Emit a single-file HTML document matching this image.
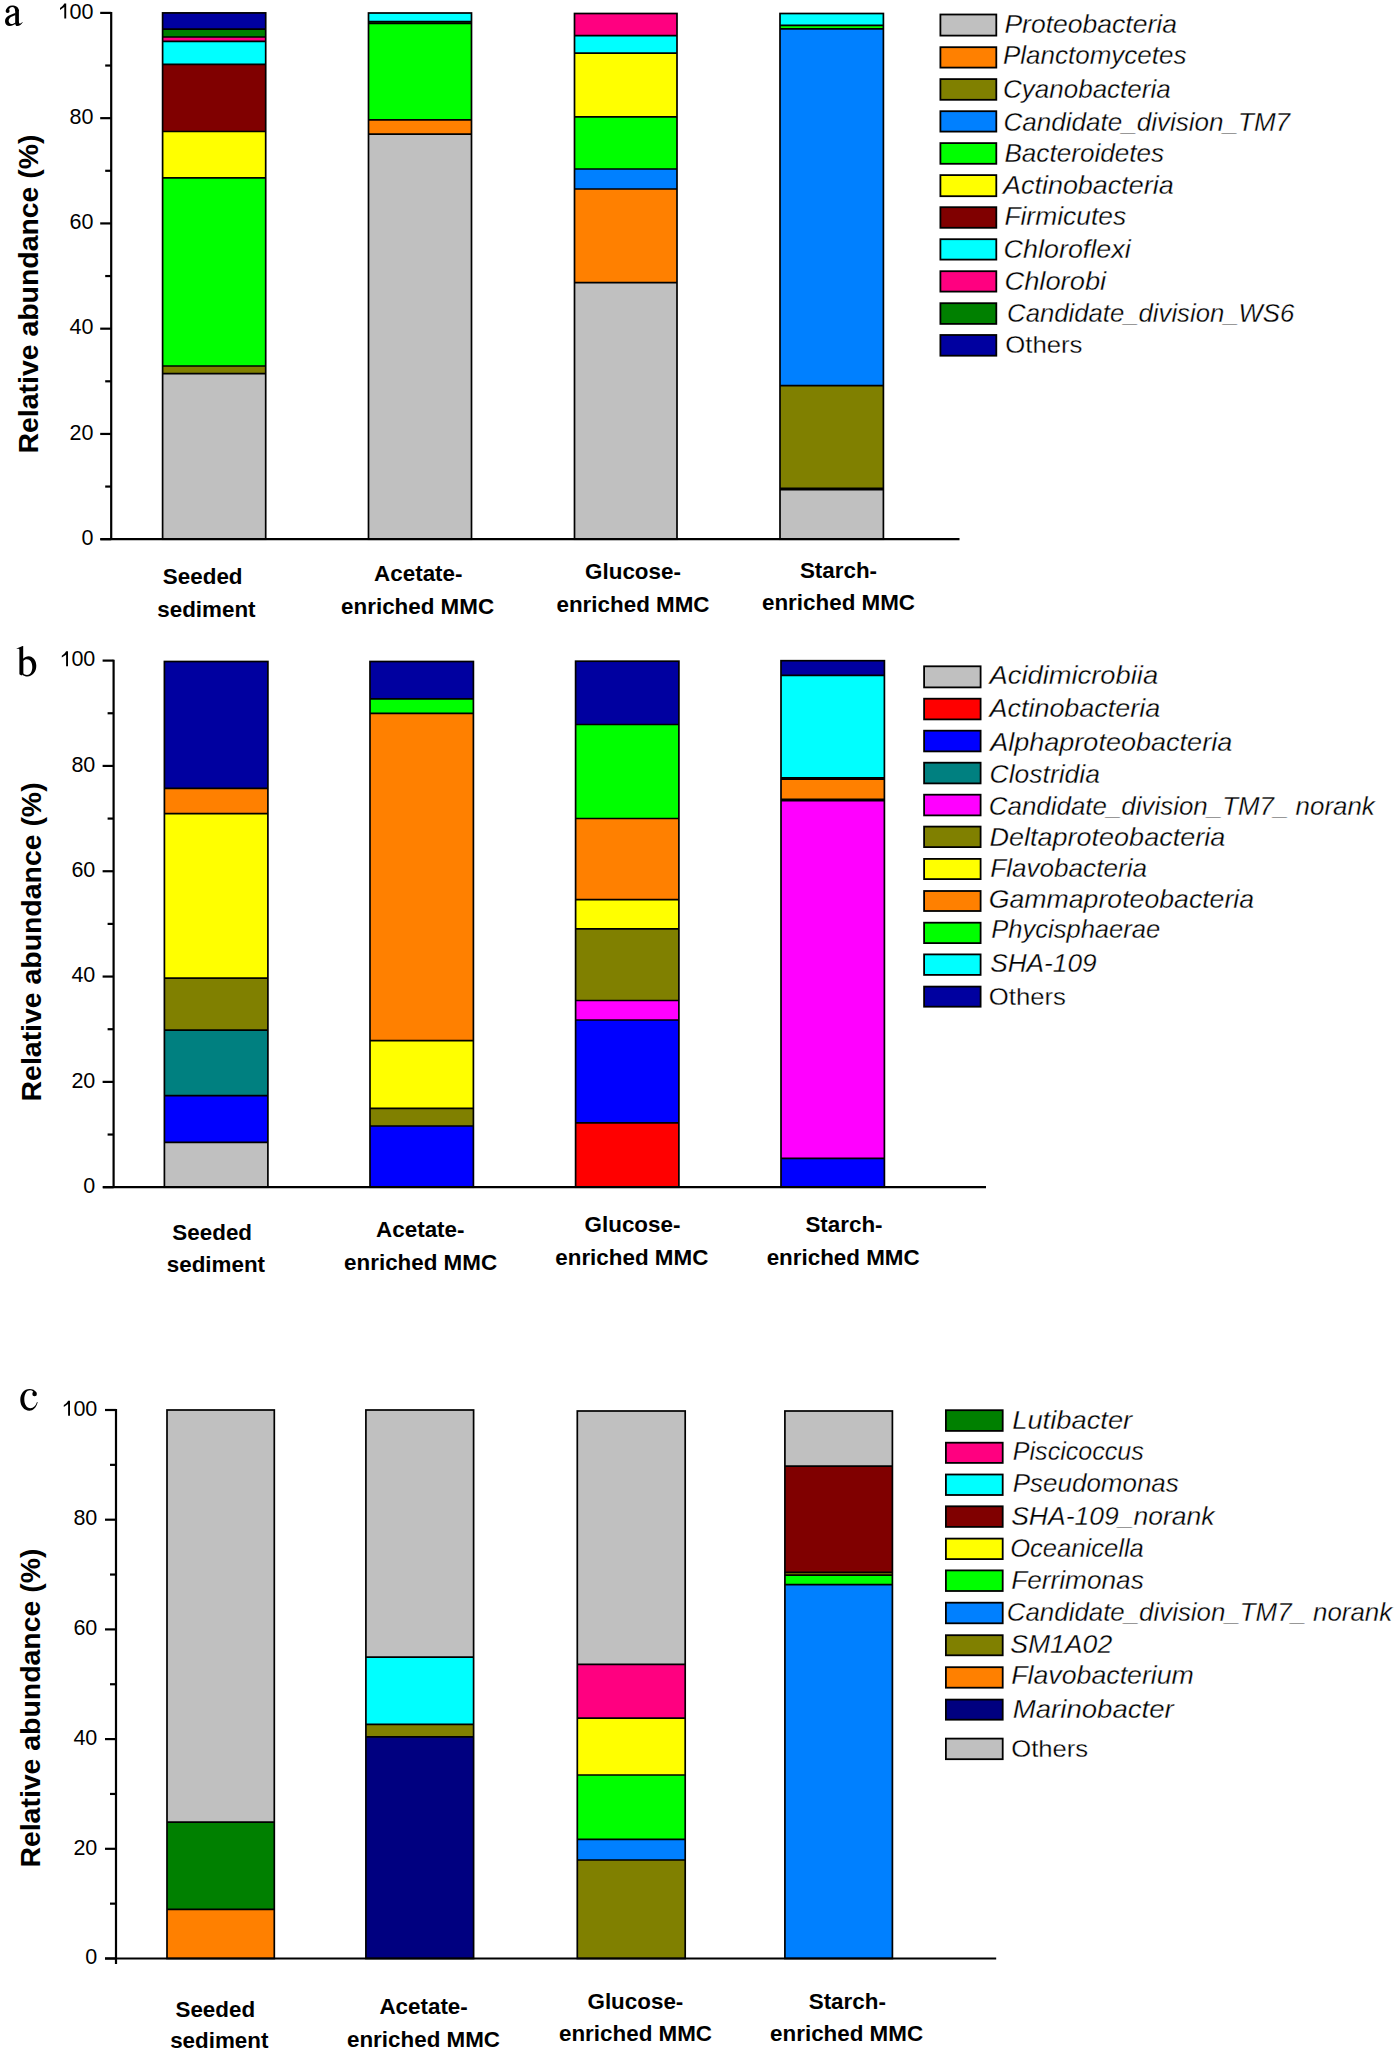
<!DOCTYPE html><html><head><meta charset="utf-8"><style>html,body{margin:0;padding:0;background:#fff;overflow:hidden;width:1395px;height:2053px;}svg{display:block;}.t{font-family:"Liberation Sans",sans-serif;}.s{font-family:"Liberation Serif",serif;}</style></head><body>
<svg width="1395" height="2053" viewBox="0 0 1395 2053">
<rect width="1395" height="2053" fill="#fff"/>
<rect x="162.6" y="12.9" width="103.1" height="16.3" fill="#0000A0"/>
<rect x="162.6" y="29.2" width="103.1" height="7.8" fill="#008000"/>
<rect x="162.6" y="37" width="103.1" height="4.4" fill="#FF0080"/>
<rect x="162.6" y="41.4" width="103.1" height="22.9" fill="#00FFFF"/>
<rect x="162.6" y="64.3" width="103.1" height="67.2" fill="#800000"/>
<rect x="162.6" y="131.5" width="103.1" height="46.3" fill="#FFFF00"/>
<rect x="162.6" y="177.8" width="103.1" height="188.2" fill="#00FF00"/>
<rect x="162.6" y="366" width="103.1" height="7.6" fill="#808000"/>
<rect x="162.6" y="373.6" width="103.1" height="165.6" fill="#C0C0C0"/>
<line x1="162.6" y1="29.2" x2="265.7" y2="29.2" stroke="#000" stroke-width="1.7"/>
<line x1="162.6" y1="37" x2="265.7" y2="37" stroke="#000" stroke-width="1.7"/>
<line x1="162.6" y1="41.4" x2="265.7" y2="41.4" stroke="#000" stroke-width="1.7"/>
<line x1="162.6" y1="64.3" x2="265.7" y2="64.3" stroke="#000" stroke-width="1.7"/>
<line x1="162.6" y1="131.5" x2="265.7" y2="131.5" stroke="#000" stroke-width="1.7"/>
<line x1="162.6" y1="177.8" x2="265.7" y2="177.8" stroke="#000" stroke-width="1.7"/>
<line x1="162.6" y1="366" x2="265.7" y2="366" stroke="#000" stroke-width="1.7"/>
<line x1="162.6" y1="373.6" x2="265.7" y2="373.6" stroke="#000" stroke-width="1.7"/>
<rect x="162.6" y="12.9" width="103.1" height="526.3" fill="none" stroke="#000" stroke-width="1.7"/>
<rect x="368.5" y="13" width="103" height="8.7" fill="#00FFFF"/>
<rect x="368.5" y="21.7" width="103" height="1.6" fill="#008000"/>
<rect x="368.5" y="23.3" width="103" height="96.5" fill="#00FF00"/>
<rect x="368.5" y="119.8" width="103" height="14.4" fill="#FF8000"/>
<rect x="368.5" y="134.2" width="103" height="405" fill="#C0C0C0"/>
<line x1="368.5" y1="21.7" x2="471.5" y2="21.7" stroke="#000" stroke-width="1.7"/>
<line x1="368.5" y1="23.3" x2="471.5" y2="23.3" stroke="#000" stroke-width="1.7"/>
<line x1="368.5" y1="119.8" x2="471.5" y2="119.8" stroke="#000" stroke-width="1.7"/>
<line x1="368.5" y1="134.2" x2="471.5" y2="134.2" stroke="#000" stroke-width="1.7"/>
<rect x="368.5" y="13" width="103" height="526.2" fill="none" stroke="#000" stroke-width="1.7"/>
<rect x="574.5" y="13.5" width="102.5" height="22.1" fill="#FF0080"/>
<rect x="574.5" y="35.6" width="102.5" height="17.5" fill="#00FFFF"/>
<rect x="574.5" y="53.1" width="102.5" height="63.8" fill="#FFFF00"/>
<rect x="574.5" y="116.9" width="102.5" height="52.1" fill="#00FF00"/>
<rect x="574.5" y="169" width="102.5" height="20" fill="#0080FF"/>
<rect x="574.5" y="189" width="102.5" height="93.6" fill="#FF8000"/>
<rect x="574.5" y="282.6" width="102.5" height="256.6" fill="#C0C0C0"/>
<line x1="574.5" y1="35.6" x2="677" y2="35.6" stroke="#000" stroke-width="1.7"/>
<line x1="574.5" y1="53.1" x2="677" y2="53.1" stroke="#000" stroke-width="1.7"/>
<line x1="574.5" y1="116.9" x2="677" y2="116.9" stroke="#000" stroke-width="1.7"/>
<line x1="574.5" y1="169" x2="677" y2="169" stroke="#000" stroke-width="1.7"/>
<line x1="574.5" y1="189" x2="677" y2="189" stroke="#000" stroke-width="1.7"/>
<line x1="574.5" y1="282.6" x2="677" y2="282.6" stroke="#000" stroke-width="1.7"/>
<rect x="574.5" y="13.5" width="102.5" height="525.7" fill="none" stroke="#000" stroke-width="1.7"/>
<rect x="780" y="13.5" width="103.4" height="11.8" fill="#00FFFF"/>
<rect x="780" y="25.3" width="103.4" height="3.6" fill="#00FF00"/>
<rect x="780" y="28.9" width="103.4" height="356.7" fill="#0080FF"/>
<rect x="780" y="385.6" width="103.4" height="102.7" fill="#808000"/>
<rect x="780" y="488.3" width="103.4" height="1.3" fill="#800000"/>
<rect x="780" y="489.6" width="103.4" height="49.6" fill="#C0C0C0"/>
<line x1="780" y1="25.3" x2="883.4" y2="25.3" stroke="#000" stroke-width="1.7"/>
<line x1="780" y1="28.9" x2="883.4" y2="28.9" stroke="#000" stroke-width="1.7"/>
<line x1="780" y1="385.6" x2="883.4" y2="385.6" stroke="#000" stroke-width="1.7"/>
<line x1="780" y1="488.3" x2="883.4" y2="488.3" stroke="#000" stroke-width="1.7"/>
<line x1="780" y1="489.6" x2="883.4" y2="489.6" stroke="#000" stroke-width="1.7"/>
<rect x="780" y="13.5" width="103.4" height="525.7" fill="none" stroke="#000" stroke-width="1.7"/>
<line x1="111.2" y1="12" x2="111.2" y2="539.2" stroke="#000" stroke-width="2.2"/>
<line x1="100.5" y1="539.2" x2="959.5" y2="539.2" stroke="#000" stroke-width="2.2"/>
<line x1="100.2" y1="539.2" x2="111.2" y2="539.2" stroke="#000" stroke-width="2.2"/>
<text class="t" x="93.5" y="544.9" font-size="21.5" text-anchor="end">0</text>
<line x1="105.2" y1="486.57" x2="111.2" y2="486.57" stroke="#000" stroke-width="2.2"/>
<line x1="100.2" y1="433.94" x2="111.2" y2="433.94" stroke="#000" stroke-width="2.2"/>
<text class="t" x="93.5" y="439.64" font-size="21.5" text-anchor="end">20</text>
<line x1="105.2" y1="381.31" x2="111.2" y2="381.31" stroke="#000" stroke-width="2.2"/>
<line x1="100.2" y1="328.68" x2="111.2" y2="328.68" stroke="#000" stroke-width="2.2"/>
<text class="t" x="93.5" y="334.38" font-size="21.5" text-anchor="end">40</text>
<line x1="105.2" y1="276.05" x2="111.2" y2="276.05" stroke="#000" stroke-width="2.2"/>
<line x1="100.2" y1="223.42" x2="111.2" y2="223.42" stroke="#000" stroke-width="2.2"/>
<text class="t" x="93.5" y="229.12" font-size="21.5" text-anchor="end">60</text>
<line x1="105.2" y1="170.79" x2="111.2" y2="170.79" stroke="#000" stroke-width="2.2"/>
<line x1="100.2" y1="118.16" x2="111.2" y2="118.16" stroke="#000" stroke-width="2.2"/>
<text class="t" x="93.5" y="123.86" font-size="21.5" text-anchor="end">80</text>
<line x1="105.2" y1="65.53" x2="111.2" y2="65.53" stroke="#000" stroke-width="2.2"/>
<line x1="100.2" y1="12.9" x2="111.2" y2="12.9" stroke="#000" stroke-width="2.2"/>
<text class="t" x="93.5" y="18.6" font-size="21.5" text-anchor="end">00</text>
<path d="M64.3 3.6 L66.2 3.6 L66.2 18.6 L64.3 18.6 L64.3 7 L60 9.9 L60 8 C61.7 7 63.5 5.4 64.3 3.6 Z" fill="#000"/>
<text class="t" font-weight="bold" font-size="28" text-anchor="middle" transform="translate(38.3,294) rotate(-90)" textLength="319" lengthAdjust="spacingAndGlyphs">Relative abundance (%)</text>
<g fill="#000"><path d="M15.2 9.6 L18.9 9.6 L18.9 23.6 L15.2 23.6 Z"/><path d="M6.0 10.2 C6.6 7.2 9.3 5.45 12.0 5.45 C15.8 5.45 18.9 7.2 18.9 11.0 L15.2 11.0 C15.2 8.5 14.0 6.9 12.2 6.9 C10.5 6.9 9.5 7.9 9.2 9.5 Z"/><circle cx="7.6" cy="11.0" r="2.0"/><path fill-rule="evenodd" d="M15.6 13.1 C11.0 14.5 5.0 16.5 5.0 21.3 C5.0 24.3 7.0 26.1 9.8 26.1 C12.0 26.1 14.0 25.0 15.6 23.8 Z M15.6 14.9 C12.5 15.9 8.7 17.5 8.7 20.8 C8.7 22.8 9.8 24.0 11.5 24.0 C13.0 24.0 14.5 23.3 15.6 22.5 Z"/><path d="M15.2 23.0 C15.2 25.2 16.0 26.1 17.3 26.1 C19.5 26.1 21.5 24.5 22.7 22.3 L22.2 22.0 C21.4 23.0 20.6 23.6 19.9 23.6 C19.2 23.6 18.9 22.9 18.9 21.5 Z"/></g>
<text class="t" x="202.7" y="584" font-size="22.4" font-weight="bold" text-anchor="middle">Seeded</text>
<text class="t" x="206.4" y="616.7" font-size="22.4" font-weight="bold" text-anchor="middle">sediment</text>
<text class="t" x="418.3" y="581.3" font-size="22.4" font-weight="bold" text-anchor="middle">Acetate-</text>
<text class="t" x="417.6" y="614" font-size="22.4" font-weight="bold" text-anchor="middle">enriched MMC</text>
<text class="t" x="633" y="579.4" font-size="22.4" font-weight="bold" text-anchor="middle">Glucose-</text>
<text class="t" x="633" y="611.5" font-size="22.4" font-weight="bold" text-anchor="middle">enriched MMC</text>
<text class="t" x="838.5" y="578" font-size="22.4" font-weight="bold" text-anchor="middle">Starch-</text>
<text class="t" x="838.5" y="610.1" font-size="22.4" font-weight="bold" text-anchor="middle">enriched MMC</text>
<rect x="940.4" y="14.5" width="55.9" height="21.1" fill="#C0C0C0" stroke="#000" stroke-width="1.8"/>
<text class="t" x="1004.4" y="33.3" font-size="25.5" font-style="italic" stroke="#fff" stroke-width="0.3" textLength="172.6" lengthAdjust="spacingAndGlyphs" xml:space="preserve">Proteobacteria</text>
<rect x="940.4" y="47.2" width="55.9" height="20.4" fill="#FF8000" stroke="#000" stroke-width="1.8"/>
<text class="t" x="1003" y="63.9" font-size="25.5" font-style="italic" stroke="#fff" stroke-width="0.3" textLength="183.5" lengthAdjust="spacingAndGlyphs" xml:space="preserve">Planctomycetes</text>
<rect x="940.4" y="79.1" width="55.9" height="20.7" fill="#808000" stroke="#000" stroke-width="1.8"/>
<text class="t" x="1003" y="97.5" font-size="25.5" font-style="italic" stroke="#fff" stroke-width="0.3" textLength="167.7" lengthAdjust="spacingAndGlyphs" xml:space="preserve">Cyanobacteria</text>
<rect x="940.4" y="111.2" width="55.9" height="20.4" fill="#0080FF" stroke="#000" stroke-width="1.8"/>
<text class="t" x="1003.5" y="130.5" font-size="25.5" font-style="italic" stroke="#fff" stroke-width="0.3" textLength="286.6" lengthAdjust="spacingAndGlyphs" xml:space="preserve">Candidate_division_TM7</text>
<rect x="940.4" y="143.1" width="55.9" height="20.7" fill="#00FF00" stroke="#000" stroke-width="1.8"/>
<text class="t" x="1004.4" y="161.5" font-size="25.5" font-style="italic" stroke="#fff" stroke-width="0.3" textLength="159.8" lengthAdjust="spacingAndGlyphs" xml:space="preserve">Bacteroidetes</text>
<rect x="940.4" y="175.1" width="55.9" height="21.1" fill="#FFFF00" stroke="#000" stroke-width="1.8"/>
<text class="t" x="1003" y="193.8" font-size="25.5" font-style="italic" stroke="#fff" stroke-width="0.3" textLength="170.7" lengthAdjust="spacingAndGlyphs" xml:space="preserve">Actinobacteria</text>
<rect x="940.4" y="207.2" width="55.9" height="20.6" fill="#800000" stroke="#000" stroke-width="1.8"/>
<text class="t" x="1004.4" y="225.2" font-size="25.5" font-style="italic" stroke="#fff" stroke-width="0.3" textLength="121.7" lengthAdjust="spacingAndGlyphs" xml:space="preserve">Firmicutes</text>
<rect x="940.4" y="239.2" width="55.9" height="20.4" fill="#00FFFF" stroke="#000" stroke-width="1.8"/>
<text class="t" x="1003.6" y="257.9" font-size="25.5" font-style="italic" stroke="#fff" stroke-width="0.3" textLength="127.1" lengthAdjust="spacingAndGlyphs" xml:space="preserve">Chloroflexi</text>
<rect x="940.4" y="271.2" width="55.9" height="20.4" fill="#FF0080" stroke="#000" stroke-width="1.8"/>
<text class="t" x="1004.4" y="289.7" font-size="25.5" font-style="italic" stroke="#fff" stroke-width="0.3" textLength="101.8" lengthAdjust="spacingAndGlyphs" xml:space="preserve">Chlorobi</text>
<rect x="940.4" y="303.2" width="55.9" height="20.7" fill="#008000" stroke="#000" stroke-width="1.8"/>
<text class="t" x="1007.1" y="321.5" font-size="25.5" font-style="italic" stroke="#fff" stroke-width="0.3" textLength="287.1" lengthAdjust="spacingAndGlyphs" xml:space="preserve">Candidate_division_WS6</text>
<rect x="940.4" y="335" width="55.9" height="20.7" fill="#0000A0" stroke="#000" stroke-width="1.8"/>
<text class="t" x="1005.2" y="352.8" font-size="24.0" font-style="normal" stroke="#fff" stroke-width="0.3" textLength="77.3" lengthAdjust="spacingAndGlyphs" xml:space="preserve">Others</text>
<rect x="164.4" y="661.5" width="103.5" height="126.8" fill="#0000A0"/>
<rect x="164.4" y="788.3" width="103.5" height="25.4" fill="#FF8000"/>
<rect x="164.4" y="813.7" width="103.5" height="164.4" fill="#FFFF00"/>
<rect x="164.4" y="978.1" width="103.5" height="52.1" fill="#808000"/>
<rect x="164.4" y="1030.2" width="103.5" height="65.4" fill="#008080"/>
<rect x="164.4" y="1095.6" width="103.5" height="46.8" fill="#0000FF"/>
<rect x="164.4" y="1142.4" width="103.5" height="44.8" fill="#C0C0C0"/>
<line x1="164.4" y1="788.3" x2="267.9" y2="788.3" stroke="#000" stroke-width="1.7"/>
<line x1="164.4" y1="813.7" x2="267.9" y2="813.7" stroke="#000" stroke-width="1.7"/>
<line x1="164.4" y1="978.1" x2="267.9" y2="978.1" stroke="#000" stroke-width="1.7"/>
<line x1="164.4" y1="1030.2" x2="267.9" y2="1030.2" stroke="#000" stroke-width="1.7"/>
<line x1="164.4" y1="1095.6" x2="267.9" y2="1095.6" stroke="#000" stroke-width="1.7"/>
<line x1="164.4" y1="1142.4" x2="267.9" y2="1142.4" stroke="#000" stroke-width="1.7"/>
<rect x="164.4" y="661.5" width="103.5" height="525.7" fill="none" stroke="#000" stroke-width="1.7"/>
<rect x="370" y="661.5" width="103.4" height="37.4" fill="#0000A0"/>
<rect x="370" y="698.9" width="103.4" height="14.5" fill="#00FF00"/>
<rect x="370" y="713.4" width="103.4" height="327.3" fill="#FF8000"/>
<rect x="370" y="1040.7" width="103.4" height="67.7" fill="#FFFF00"/>
<rect x="370" y="1108.4" width="103.4" height="17.6" fill="#808000"/>
<rect x="370" y="1126" width="103.4" height="61.2" fill="#0000FF"/>
<line x1="370" y1="698.9" x2="473.4" y2="698.9" stroke="#000" stroke-width="1.7"/>
<line x1="370" y1="713.4" x2="473.4" y2="713.4" stroke="#000" stroke-width="1.7"/>
<line x1="370" y1="1040.7" x2="473.4" y2="1040.7" stroke="#000" stroke-width="1.7"/>
<line x1="370" y1="1108.4" x2="473.4" y2="1108.4" stroke="#000" stroke-width="1.7"/>
<line x1="370" y1="1126" x2="473.4" y2="1126" stroke="#000" stroke-width="1.7"/>
<rect x="370" y="661.5" width="103.4" height="525.7" fill="none" stroke="#000" stroke-width="1.7"/>
<rect x="575.6" y="661.2" width="103.3" height="63.3" fill="#0000A0"/>
<rect x="575.6" y="724.5" width="103.3" height="94" fill="#00FF00"/>
<rect x="575.6" y="818.5" width="103.3" height="81.1" fill="#FF8000"/>
<rect x="575.6" y="899.6" width="103.3" height="29.3" fill="#FFFF00"/>
<rect x="575.6" y="928.9" width="103.3" height="71.6" fill="#808000"/>
<rect x="575.6" y="1000.5" width="103.3" height="19.5" fill="#FF00FF"/>
<rect x="575.6" y="1020" width="103.3" height="102.8" fill="#0000FF"/>
<rect x="575.6" y="1122.8" width="103.3" height="64.4" fill="#FF0000"/>
<line x1="575.6" y1="724.5" x2="678.9" y2="724.5" stroke="#000" stroke-width="1.7"/>
<line x1="575.6" y1="818.5" x2="678.9" y2="818.5" stroke="#000" stroke-width="1.7"/>
<line x1="575.6" y1="899.6" x2="678.9" y2="899.6" stroke="#000" stroke-width="1.7"/>
<line x1="575.6" y1="928.9" x2="678.9" y2="928.9" stroke="#000" stroke-width="1.7"/>
<line x1="575.6" y1="1000.5" x2="678.9" y2="1000.5" stroke="#000" stroke-width="1.7"/>
<line x1="575.6" y1="1020" x2="678.9" y2="1020" stroke="#000" stroke-width="1.7"/>
<line x1="575.6" y1="1122.8" x2="678.9" y2="1122.8" stroke="#000" stroke-width="1.7"/>
<rect x="575.6" y="661.2" width="103.3" height="526" fill="none" stroke="#000" stroke-width="1.7"/>
<rect x="781" y="660.7" width="103.4" height="14.6" fill="#0000A0"/>
<rect x="781" y="675.3" width="103.4" height="102.6" fill="#00FFFF"/>
<rect x="781" y="777.9" width="103.4" height="1.2" fill="#800000"/>
<rect x="781" y="779.1" width="103.4" height="20.3" fill="#FF8000"/>
<rect x="781" y="799.4" width="103.4" height="1.2" fill="#00FF00"/>
<rect x="781" y="800.6" width="103.4" height="357.8" fill="#FF00FF"/>
<rect x="781" y="1158.4" width="103.4" height="28.8" fill="#0000FF"/>
<line x1="781" y1="675.3" x2="884.4" y2="675.3" stroke="#000" stroke-width="1.7"/>
<line x1="781" y1="777.9" x2="884.4" y2="777.9" stroke="#000" stroke-width="1.7"/>
<line x1="781" y1="779.1" x2="884.4" y2="779.1" stroke="#000" stroke-width="1.7"/>
<line x1="781" y1="799.4" x2="884.4" y2="799.4" stroke="#000" stroke-width="1.7"/>
<line x1="781" y1="800.6" x2="884.4" y2="800.6" stroke="#000" stroke-width="1.7"/>
<line x1="781" y1="1158.4" x2="884.4" y2="1158.4" stroke="#000" stroke-width="1.7"/>
<rect x="781" y="660.7" width="103.4" height="526.5" fill="none" stroke="#000" stroke-width="1.7"/>
<line x1="113.6" y1="659.7" x2="113.6" y2="1187.2" stroke="#000" stroke-width="2.2"/>
<line x1="103" y1="1187.2" x2="986" y2="1187.2" stroke="#000" stroke-width="2.2"/>
<line x1="102.6" y1="1187.2" x2="113.6" y2="1187.2" stroke="#000" stroke-width="2.2"/>
<text class="t" x="95.3" y="1192.9" font-size="21.5" text-anchor="end">0</text>
<line x1="107.6" y1="1134.54" x2="113.6" y2="1134.54" stroke="#000" stroke-width="2.2"/>
<line x1="102.6" y1="1081.88" x2="113.6" y2="1081.88" stroke="#000" stroke-width="2.2"/>
<text class="t" x="95.3" y="1087.58" font-size="21.5" text-anchor="end">20</text>
<line x1="107.6" y1="1029.22" x2="113.6" y2="1029.22" stroke="#000" stroke-width="2.2"/>
<line x1="102.6" y1="976.56" x2="113.6" y2="976.56" stroke="#000" stroke-width="2.2"/>
<text class="t" x="95.3" y="982.26" font-size="21.5" text-anchor="end">40</text>
<line x1="107.6" y1="923.9" x2="113.6" y2="923.9" stroke="#000" stroke-width="2.2"/>
<line x1="102.6" y1="871.24" x2="113.6" y2="871.24" stroke="#000" stroke-width="2.2"/>
<text class="t" x="95.3" y="876.94" font-size="21.5" text-anchor="end">60</text>
<line x1="107.6" y1="818.58" x2="113.6" y2="818.58" stroke="#000" stroke-width="2.2"/>
<line x1="102.6" y1="765.92" x2="113.6" y2="765.92" stroke="#000" stroke-width="2.2"/>
<text class="t" x="95.3" y="771.62" font-size="21.5" text-anchor="end">80</text>
<line x1="107.6" y1="713.26" x2="113.6" y2="713.26" stroke="#000" stroke-width="2.2"/>
<line x1="102.6" y1="660.6" x2="113.6" y2="660.6" stroke="#000" stroke-width="2.2"/>
<text class="t" x="95.3" y="666.3" font-size="21.5" text-anchor="end">00</text>
<path d="M66.1 651.3 L68 651.3 L68 666.3 L66.1 666.3 L66.1 654.7 L61.8 657.6 L61.8 655.7 C63.5 654.7 65.3 653.1 66.1 651.3 Z" fill="#000"/>
<text class="t" font-weight="bold" font-size="28" text-anchor="middle" transform="translate(41.1,941.9) rotate(-90)" textLength="319" lengthAdjust="spacingAndGlyphs">Relative abundance (%)</text>
<g fill="#000"><path d="M16.7 648.4 L22.6 646.1 L23.2 646.1 L23.2 674.0 L21.4 675.6 L19.4 674.3 L19.4 650.0 C19.4 649.0 18.8 648.7 16.7 648.9 Z"/><path fill-rule="evenodd" d="M23.0 658.8 C24.6 657.1 26.5 656.2 28.6 656.2 C33.0 656.2 36.3 660.5 36.3 665.8 C36.3 671.8 32.5 676.4 27.4 676.4 C25.5 676.4 23.8 675.8 22.3 674.9 Z M23.2 661.0 C24.2 659.8 25.5 659.2 26.9 659.2 C30.1 659.2 32.3 662.2 32.3 667.0 C32.3 672.0 30.0 675.0 27.0 675.0 C25.3 675.0 24.0 674.3 23.2 673.3 Z"/></g>
<text class="t" x="212.2" y="1239.6" font-size="22.4" font-weight="bold" text-anchor="middle">Seeded</text>
<text class="t" x="215.9" y="1271.7" font-size="22.4" font-weight="bold" text-anchor="middle">sediment</text>
<text class="t" x="420.3" y="1237.3" font-size="22.4" font-weight="bold" text-anchor="middle">Acetate-</text>
<text class="t" x="420.6" y="1270.3" font-size="22.4" font-weight="bold" text-anchor="middle">enriched MMC</text>
<text class="t" x="632.5" y="1232.1" font-size="22.4" font-weight="bold" text-anchor="middle">Glucose-</text>
<text class="t" x="631.8" y="1264.5" font-size="22.4" font-weight="bold" text-anchor="middle">enriched MMC</text>
<text class="t" x="844" y="1232.1" font-size="22.4" font-weight="bold" text-anchor="middle">Starch-</text>
<text class="t" x="843.2" y="1264.5" font-size="22.4" font-weight="bold" text-anchor="middle">enriched MMC</text>
<rect x="924.1" y="666.3" width="56.5" height="21.1" fill="#C0C0C0" stroke="#000" stroke-width="1.8"/>
<text class="t" x="989.5" y="683.7" font-size="25.5" font-style="italic" stroke="#fff" stroke-width="0.3" textLength="168.6" lengthAdjust="spacingAndGlyphs" xml:space="preserve">Acidimicrobiia</text>
<rect x="924.1" y="698.7" width="56.5" height="20.7" fill="#FF0000" stroke="#000" stroke-width="1.8"/>
<text class="t" x="989.5" y="717" font-size="25.5" font-style="italic" stroke="#fff" stroke-width="0.3" textLength="170.7" lengthAdjust="spacingAndGlyphs" xml:space="preserve">Actinobacteria</text>
<rect x="924.1" y="730.7" width="56.5" height="20.7" fill="#0000FF" stroke="#000" stroke-width="1.8"/>
<text class="t" x="990.2" y="750.5" font-size="25.5" font-style="italic" stroke="#fff" stroke-width="0.3" textLength="242" lengthAdjust="spacingAndGlyphs" xml:space="preserve">Alphaproteobacteria</text>
<rect x="924.1" y="762.7" width="56.5" height="20.7" fill="#008080" stroke="#000" stroke-width="1.8"/>
<text class="t" x="989.5" y="782.5" font-size="25.5" font-style="italic" stroke="#fff" stroke-width="0.3" textLength="110.5" lengthAdjust="spacingAndGlyphs" xml:space="preserve">Clostridia</text>
<rect x="924.1" y="794.7" width="56.5" height="20.7" fill="#FF00FF" stroke="#000" stroke-width="1.8"/>
<text class="t" x="988.8" y="814.5" font-size="25.5" font-style="italic" stroke="#fff" stroke-width="0.3" textLength="386" lengthAdjust="spacingAndGlyphs" xml:space="preserve">Candidate_division_TM7_ norank</text>
<rect x="924.1" y="826.6" width="56.5" height="20.5" fill="#808000" stroke="#000" stroke-width="1.8"/>
<text class="t" x="989.5" y="845.5" font-size="25.5" font-style="italic" stroke="#fff" stroke-width="0.3" textLength="235.7" lengthAdjust="spacingAndGlyphs" xml:space="preserve">Deltaproteobacteria</text>
<rect x="924.1" y="858.9" width="56.5" height="20.2" fill="#FFFF00" stroke="#000" stroke-width="1.8"/>
<text class="t" x="990.2" y="877" font-size="25.5" font-style="italic" stroke="#fff" stroke-width="0.3" textLength="156.8" lengthAdjust="spacingAndGlyphs" xml:space="preserve">Flavobacteria</text>
<rect x="924.1" y="891" width="56.5" height="20" fill="#FF8000" stroke="#000" stroke-width="1.8"/>
<text class="t" x="988.8" y="907.9" font-size="25.5" font-style="italic" stroke="#fff" stroke-width="0.3" textLength="265.3" lengthAdjust="spacingAndGlyphs" xml:space="preserve">Gammaproteobacteria</text>
<rect x="924.1" y="922.7" width="56.5" height="20.4" fill="#00FF00" stroke="#000" stroke-width="1.8"/>
<text class="t" x="991.2" y="937.8" font-size="25.5" font-style="italic" stroke="#fff" stroke-width="0.3" textLength="169" lengthAdjust="spacingAndGlyphs" xml:space="preserve">Phycisphaerae</text>
<rect x="924.1" y="954.4" width="56.5" height="20.5" fill="#00FFFF" stroke="#000" stroke-width="1.8"/>
<text class="t" x="990.2" y="972" font-size="25.5" font-style="italic" stroke="#fff" stroke-width="0.3" textLength="106.4" lengthAdjust="spacingAndGlyphs" xml:space="preserve">SHA-109</text>
<rect x="924.1" y="986.6" width="56.5" height="20.1" fill="#0000A0" stroke="#000" stroke-width="1.8"/>
<text class="t" x="988.8" y="1005.2" font-size="24.0" font-style="normal" stroke="#fff" stroke-width="0.3" textLength="77.1" lengthAdjust="spacingAndGlyphs" xml:space="preserve">Others</text>
<rect x="167" y="1410" width="107.3" height="412.1" fill="#C0C0C0"/>
<rect x="167" y="1822.1" width="107.3" height="87.3" fill="#008000"/>
<rect x="167" y="1909.4" width="107.3" height="49.1" fill="#FF8000"/>
<line x1="167" y1="1822.1" x2="274.3" y2="1822.1" stroke="#000" stroke-width="1.7"/>
<line x1="167" y1="1909.4" x2="274.3" y2="1909.4" stroke="#000" stroke-width="1.7"/>
<rect x="167" y="1410" width="107.3" height="548.5" fill="none" stroke="#000" stroke-width="1.7"/>
<rect x="365.9" y="1410" width="107.7" height="247.1" fill="#C0C0C0"/>
<rect x="365.9" y="1657.1" width="107.7" height="67.3" fill="#00FFFF"/>
<rect x="365.9" y="1724.4" width="107.7" height="12.5" fill="#808000"/>
<rect x="365.9" y="1736.9" width="107.7" height="221.6" fill="#000080"/>
<line x1="365.9" y1="1657.1" x2="473.6" y2="1657.1" stroke="#000" stroke-width="1.7"/>
<line x1="365.9" y1="1724.4" x2="473.6" y2="1724.4" stroke="#000" stroke-width="1.7"/>
<line x1="365.9" y1="1736.9" x2="473.6" y2="1736.9" stroke="#000" stroke-width="1.7"/>
<rect x="365.9" y="1410" width="107.7" height="548.5" fill="none" stroke="#000" stroke-width="1.7"/>
<rect x="577.3" y="1411" width="107.9" height="253.3" fill="#C0C0C0"/>
<rect x="577.3" y="1664.3" width="107.9" height="53.8" fill="#FF0080"/>
<rect x="577.3" y="1718.1" width="107.9" height="56.9" fill="#FFFF00"/>
<rect x="577.3" y="1775" width="107.9" height="64.3" fill="#00FF00"/>
<rect x="577.3" y="1839.3" width="107.9" height="20.7" fill="#0080FF"/>
<rect x="577.3" y="1860" width="107.9" height="98.5" fill="#808000"/>
<line x1="577.3" y1="1664.3" x2="685.2" y2="1664.3" stroke="#000" stroke-width="1.7"/>
<line x1="577.3" y1="1718.1" x2="685.2" y2="1718.1" stroke="#000" stroke-width="1.7"/>
<line x1="577.3" y1="1775" x2="685.2" y2="1775" stroke="#000" stroke-width="1.7"/>
<line x1="577.3" y1="1839.3" x2="685.2" y2="1839.3" stroke="#000" stroke-width="1.7"/>
<line x1="577.3" y1="1860" x2="685.2" y2="1860" stroke="#000" stroke-width="1.7"/>
<rect x="577.3" y="1411" width="107.9" height="547.5" fill="none" stroke="#000" stroke-width="1.7"/>
<rect x="784.9" y="1411" width="107.5" height="55.2" fill="#C0C0C0"/>
<rect x="784.9" y="1466.2" width="107.5" height="106.2" fill="#800000"/>
<rect x="784.9" y="1572.4" width="107.5" height="2.8" fill="#808000"/>
<rect x="784.9" y="1575.2" width="107.5" height="9.5" fill="#00FF00"/>
<rect x="784.9" y="1584.7" width="107.5" height="373.8" fill="#0080FF"/>
<line x1="784.9" y1="1466.2" x2="892.4" y2="1466.2" stroke="#000" stroke-width="1.7"/>
<line x1="784.9" y1="1572.4" x2="892.4" y2="1572.4" stroke="#000" stroke-width="1.7"/>
<line x1="784.9" y1="1575.2" x2="892.4" y2="1575.2" stroke="#000" stroke-width="1.7"/>
<line x1="784.9" y1="1584.7" x2="892.4" y2="1584.7" stroke="#000" stroke-width="1.7"/>
<rect x="784.9" y="1411" width="107.5" height="547.5" fill="none" stroke="#000" stroke-width="1.7"/>
<line x1="116" y1="1409.1" x2="116" y2="1964" stroke="#000" stroke-width="2.2"/>
<line x1="105" y1="1958.5" x2="996.2" y2="1958.5" stroke="#000" stroke-width="2.2"/>
<line x1="105" y1="1958.5" x2="116" y2="1958.5" stroke="#000" stroke-width="2.2"/>
<text class="t" x="97.3" y="1964.2" font-size="21.5" text-anchor="end">0</text>
<line x1="110" y1="1903.65" x2="116" y2="1903.65" stroke="#000" stroke-width="2.2"/>
<line x1="105" y1="1848.8" x2="116" y2="1848.8" stroke="#000" stroke-width="2.2"/>
<text class="t" x="97.3" y="1854.5" font-size="21.5" text-anchor="end">20</text>
<line x1="110" y1="1793.95" x2="116" y2="1793.95" stroke="#000" stroke-width="2.2"/>
<line x1="105" y1="1739.1" x2="116" y2="1739.1" stroke="#000" stroke-width="2.2"/>
<text class="t" x="97.3" y="1744.8" font-size="21.5" text-anchor="end">40</text>
<line x1="110" y1="1684.25" x2="116" y2="1684.25" stroke="#000" stroke-width="2.2"/>
<line x1="105" y1="1629.4" x2="116" y2="1629.4" stroke="#000" stroke-width="2.2"/>
<text class="t" x="97.3" y="1635.1" font-size="21.5" text-anchor="end">60</text>
<line x1="110" y1="1574.55" x2="116" y2="1574.55" stroke="#000" stroke-width="2.2"/>
<line x1="105" y1="1519.7" x2="116" y2="1519.7" stroke="#000" stroke-width="2.2"/>
<text class="t" x="97.3" y="1525.4" font-size="21.5" text-anchor="end">80</text>
<line x1="110" y1="1464.85" x2="116" y2="1464.85" stroke="#000" stroke-width="2.2"/>
<line x1="105" y1="1410" x2="116" y2="1410" stroke="#000" stroke-width="2.2"/>
<text class="t" x="97.3" y="1415.7" font-size="21.5" text-anchor="end">00</text>
<path d="M68.1 1400.7 L70 1400.7 L70 1415.7 L68.1 1415.7 L68.1 1404.1 L63.8 1407 L63.8 1405.1 C65.5 1404.1 67.3 1402.5 68.1 1400.7 Z" fill="#000"/>
<text class="t" font-weight="bold" font-size="28" text-anchor="middle" transform="translate(40,1708.1) rotate(-90)" textLength="319" lengthAdjust="spacingAndGlyphs">Relative abundance (%)</text>
<g fill="#000"><path d="M36.2 1392.3 C35.0 1390.0 32.5 1388.9 29.5 1388.9 C24.2 1388.9 20.3 1393.5 20.3 1399.8 C20.3 1406.2 24.3 1410.7 29.3 1410.7 C33.2 1410.7 36.0 1408.0 37.7 1402.3 L37.0 1401.9 C35.6 1405.8 33.5 1408.2 30.5 1408.2 C26.5 1408.2 24.3 1404.3 24.3 1399.3 C24.3 1393.6 26.8 1390.3 30.0 1390.3 C31.6 1390.3 32.8 1390.9 33.4 1392.0 Z"/><circle cx="34.6" cy="1393.9" r="2.3"/></g>
<text class="t" x="215.3" y="2016.5" font-size="22.4" font-weight="bold" text-anchor="middle">Seeded</text>
<text class="t" x="219.3" y="2048" font-size="22.4" font-weight="bold" text-anchor="middle">sediment</text>
<text class="t" x="423.6" y="2013.9" font-size="22.4" font-weight="bold" text-anchor="middle">Acetate-</text>
<text class="t" x="423.5" y="2046.8" font-size="22.4" font-weight="bold" text-anchor="middle">enriched MMC</text>
<text class="t" x="635.4" y="2009.3" font-size="22.4" font-weight="bold" text-anchor="middle">Glucose-</text>
<text class="t" x="635.5" y="2041.1" font-size="22.4" font-weight="bold" text-anchor="middle">enriched MMC</text>
<text class="t" x="847.3" y="2008.7" font-size="22.4" font-weight="bold" text-anchor="middle">Starch-</text>
<text class="t" x="846.6" y="2041.1" font-size="22.4" font-weight="bold" text-anchor="middle">enriched MMC</text>
<rect x="945.9" y="1410.2" width="56.8" height="20.7" fill="#008000" stroke="#000" stroke-width="1.8"/>
<text class="t" x="1012.2" y="1429" font-size="25.5" font-style="italic" stroke="#fff" stroke-width="0.3" textLength="120" lengthAdjust="spacingAndGlyphs" xml:space="preserve">Lutibacter</text>
<rect x="945.9" y="1442.7" width="56.8" height="20.2" fill="#FF0080" stroke="#000" stroke-width="1.8"/>
<text class="t" x="1012.8" y="1460.3" font-size="25.5" font-style="italic" stroke="#fff" stroke-width="0.3" textLength="131" lengthAdjust="spacingAndGlyphs" xml:space="preserve">Piscicoccus</text>
<rect x="945.9" y="1474.5" width="56.8" height="20.5" fill="#00FFFF" stroke="#000" stroke-width="1.8"/>
<text class="t" x="1012.8" y="1492.1" font-size="25.5" font-style="italic" stroke="#fff" stroke-width="0.3" textLength="166" lengthAdjust="spacingAndGlyphs" xml:space="preserve">Pseudomonas</text>
<rect x="945.9" y="1506.3" width="56.8" height="20.6" fill="#800000" stroke="#000" stroke-width="1.8"/>
<text class="t" x="1011.2" y="1525.4" font-size="25.5" font-style="italic" stroke="#fff" stroke-width="0.3" textLength="203.3" lengthAdjust="spacingAndGlyphs" xml:space="preserve">SHA-109_norank</text>
<rect x="945.9" y="1538.6" width="56.8" height="20.5" fill="#FFFF00" stroke="#000" stroke-width="1.8"/>
<text class="t" x="1010.2" y="1557.2" font-size="25.5" font-style="italic" stroke="#fff" stroke-width="0.3" textLength="133.6" lengthAdjust="spacingAndGlyphs" xml:space="preserve">Oceanicella</text>
<rect x="945.9" y="1570.4" width="56.8" height="20.6" fill="#00FF00" stroke="#000" stroke-width="1.8"/>
<text class="t" x="1011.2" y="1588.5" font-size="25.5" font-style="italic" stroke="#fff" stroke-width="0.3" textLength="132.6" lengthAdjust="spacingAndGlyphs" xml:space="preserve">Ferrimonas</text>
<rect x="945.9" y="1602.7" width="56.8" height="20.6" fill="#0080FF" stroke="#000" stroke-width="1.8"/>
<text class="t" x="1006.8" y="1620.7" font-size="25.5" font-style="italic" stroke="#fff" stroke-width="0.3" textLength="385.4" lengthAdjust="spacingAndGlyphs" xml:space="preserve">Candidate_division_TM7_ norank</text>
<rect x="945.9" y="1635.2" width="56.8" height="20.1" fill="#808000" stroke="#000" stroke-width="1.8"/>
<text class="t" x="1010.2" y="1652.7" font-size="25.5" font-style="italic" stroke="#fff" stroke-width="0.3" textLength="102" lengthAdjust="spacingAndGlyphs" xml:space="preserve">SM1A02</text>
<rect x="945.9" y="1667.2" width="56.8" height="20.5" fill="#FF8000" stroke="#000" stroke-width="1.8"/>
<text class="t" x="1011.2" y="1683.8" font-size="25.5" font-style="italic" stroke="#fff" stroke-width="0.3" textLength="182.7" lengthAdjust="spacingAndGlyphs" xml:space="preserve">Flavobacterium</text>
<rect x="945.9" y="1699.6" width="56.8" height="20.1" fill="#000080" stroke="#000" stroke-width="1.8"/>
<text class="t" x="1012.8" y="1718" font-size="25.5" font-style="italic" stroke="#fff" stroke-width="0.3" textLength="161" lengthAdjust="spacingAndGlyphs" xml:space="preserve">Marinobacter</text>
<rect x="945.9" y="1738.6" width="56.8" height="20.6" fill="#C0C0C0" stroke="#000" stroke-width="1.8"/>
<text class="t" x="1011.2" y="1756.6" font-size="24.0" font-style="normal" stroke="#fff" stroke-width="0.3" textLength="77" lengthAdjust="spacingAndGlyphs" xml:space="preserve">Others</text>
</svg></body></html>
